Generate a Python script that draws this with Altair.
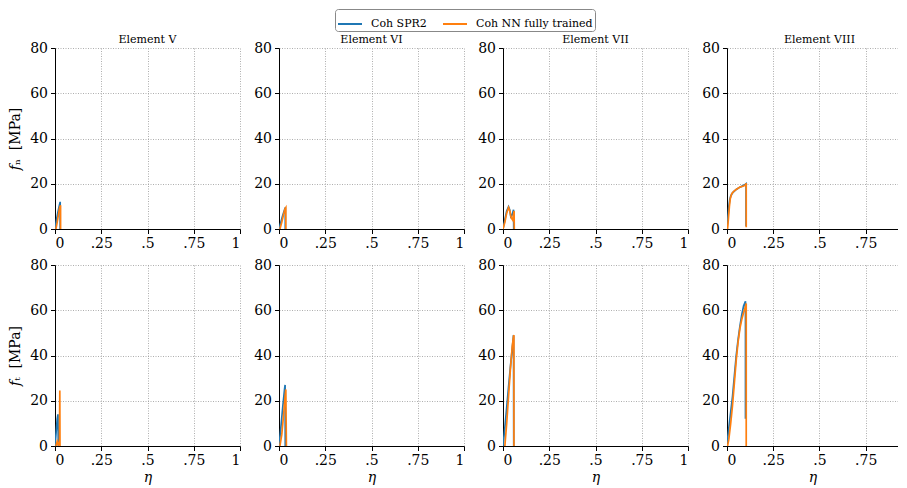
import altair as alt
import pandas as pd

SERIES = ["Coh SPR2", "Coh NN fully trained"]
COLORS = ["#1f77b4", "#ff7f0e"]
ELEMENTS = ["V", "VI", "VII", "VIII"]
X_TICKS = [0, 0.25, 0.5, 0.75, 1]
Y_TICKS = [0, 20, 40, 60, 80]

# ---- Element V ----
v_n_spr_eta = [0, 0.008, 0.016, 0.024, 0.028, 0.028]
v_n_spr_f = [0, 4, 7.5, 10.5, 12, 0]
v_n_nn_eta = [0.005, 0.012, 0.018, 0.025, 0.03, 0.03]
v_n_nn_f = [0, 3, 6, 9.5, 10.5, 0]
v_t_spr_eta = [0, 0.006, 0.012, 0.016, 0.018]
v_t_spr_f = [0, 6, 12, 14, 0]
v_t_nn_eta = [0.005, 0.012, 0.018, 0.024, 0.026, 0.027]
v_t_nn_f = [0, 2, 0.5, 2, 24.5, 0]

# ---- Element VI ----
vi_n_spr_eta = [0, 0.01, 0.02, 0.03, 0.034, 0.034]
vi_n_spr_f = [0, 3, 6, 8.5, 9.5, 0]
vi_n_nn_eta = [0.005, 0.015, 0.025, 0.033, 0.037, 0.037]
vi_n_nn_f = [0, 3, 6.5, 9, 9.5, 0]
vi_t_spr_eta = [0, 0.01, 0.02, 0.03, 0.033, 0.034]
vi_t_spr_f = [0, 8, 17, 25, 27, 0]
vi_t_nn_eta = [0.005, 0.015, 0.025, 0.033, 0.037, 0.04]
vi_t_nn_f = [0, 5, 14, 22, 25, 0]

# ---- Element VII ----
vii_n_spr_eta = [0, 0.01, 0.02, 0.03, 0.036, 0.042, 0.05, 0.057, 0.058]
vii_n_spr_f = [0, 4, 8, 9.8, 8.5, 5.5, 6.5, 8.5, 0]
vii_n_nn_eta = [0, 0.01, 0.02, 0.03, 0.037, 0.044, 0.052, 0.06, 0.061]
vii_n_nn_f = [0, 3, 7, 9.5, 8, 5, 4, 8, 0]
vii_t_spr_eta = [0, 0.01, 0.02, 0.03, 0.04, 0.05, 0.057, 0.058]
vii_t_spr_f = [0, 8, 17, 26, 35, 43, 49, 0]
vii_t_nn_eta = [0.01, 0.02, 0.03, 0.04, 0.05, 0.057, 0.059, 0.059]
vii_t_nn_f = [0, 10, 22, 34, 44, 48.5, 49, 0]

# ---- Element VIII ----
viii_n_spr_eta = [0, 0.005, 0.01, 0.015, 0.02, 0.03, 0.05, 0.07, 0.09, 0.1, 0.103, 0.103]
viii_n_spr_f = [0, 5, 10, 13, 14.5, 16, 17.5, 18.5, 19.3, 19.8, 20, 1.2]
viii_n_nn_eta = [0.003, 0.008, 0.013, 0.018, 0.025, 0.035, 0.05, 0.07, 0.09, 0.1, 0.104, 0.104]
viii_n_nn_f = [0, 5, 10, 13.5, 15.5, 16.5, 17.5, 18.5, 19, 19.5, 20.2, 0.8]
viii_t_spr_eta = [0, 0.01, 0.02, 0.03, 0.04, 0.05, 0.06, 0.07, 0.08, 0.09, 0.1, 0.1]
viii_t_spr_f = [1, 8, 15, 22, 31, 40, 47, 53, 58, 62, 64, 12]
viii_t_nn_eta = [0.003, 0.01, 0.02, 0.03, 0.04, 0.05, 0.06, 0.07, 0.08, 0.09, 0.1, 0.104, 0.104]
viii_t_nn_f = [0, 3, 10, 18, 28, 38, 46, 52, 56, 59, 61.5, 63, 0]

CURVES = {
    ("V", "n"): [(v_n_spr_eta, v_n_spr_f), (v_n_nn_eta, v_n_nn_f)],
    ("V", "t"): [(v_t_spr_eta, v_t_spr_f), (v_t_nn_eta, v_t_nn_f)],
    ("VI", "n"): [(vi_n_spr_eta, vi_n_spr_f), (vi_n_nn_eta, vi_n_nn_f)],
    ("VI", "t"): [(vi_t_spr_eta, vi_t_spr_f), (vi_t_nn_eta, vi_t_nn_f)],
    ("VII", "n"): [(vii_n_spr_eta, vii_n_spr_f), (vii_n_nn_eta, vii_n_nn_f)],
    ("VII", "t"): [(vii_t_spr_eta, vii_t_spr_f), (vii_t_nn_eta, vii_t_nn_f)],
    ("VIII", "n"): [(viii_n_spr_eta, viii_n_spr_f), (viii_n_nn_eta, viii_n_nn_f)],
    ("VIII", "t"): [(viii_t_spr_eta, viii_t_spr_f), (viii_t_nn_eta, viii_t_nn_f)],
}

rows = []
for (el, comp), pairs in CURVES.items():
    for s, (etas, fs) in zip(SERIES, pairs):
        for i, (e, f) in enumerate(zip(etas, fs)):
            rows.append({"el": el, "comp": comp, "series": s, "i": i, "eta": e, "f": f})
df = pd.DataFrame(rows)

FONT = "DejaVu Serif"
color = alt.Color("series:N", scale=alt.Scale(domain=SERIES, range=COLORS),
                  legend=alt.Legend(title=None))

LABEL_EXPR = ("datum.value == 0 ? '0' : datum.value == 1 ? '1' : "
              "datum.value == 0.25 ? '.25' : datum.value == 0.5 ? '.5' : '.75'")
NB = "\u00a0\u00a0"
PANEL_W = 185


def panel(el, comp, r, c):
    last = c == 3
    xmax = 0.925 if last else 1.0
    w = 171 if last else PANEL_W
    d = df[(df.el == el) & (df.comp == comp)]
    x = alt.X("eta:Q", scale=alt.Scale(domain=[0, xmax], nice=False, zero=False),
              axis=alt.Axis(values=[t for t in X_TICKS if t <= xmax], labelExpr=LABEL_EXPR,
                            title="η" if r == 1 else None, titleFontStyle="italic",
                            titlePadding=3))
    ytitle = None
    if c == 0:
        ytitle = ("𝑓ₙ" if comp == "n" else "𝑓ₜ") + NB + "[MPa]"
    y = alt.Y("f:Q", scale=alt.Scale(domain=[0, 80], nice=False),
              axis=alt.Axis(values=Y_TICKS, title=ytitle, titlePadding=7))
    layers = []
    for s in SERIES:
        layers.append(
            alt.Chart(d[d.series == s]).mark_line(strokeWidth=1.7, clip=True).encode(
                x=x, y=y, color=color, order=alt.Order("i:Q"))
        )
    if r == 0:
        # panel heading, centred on the (full-width) panel just above its top edge
        layers.append(
            alt.Chart(d.head(1)).mark_text(font=FONT, fontSize=11, color="black",
                                          baseline="bottom", align="center").encode(
                x=alt.value(PANEL_W / 2), y=alt.value(-3),
                text=alt.value("Element " + el))
        )
    return alt.layer(*layers).properties(width=w, height=181)


panels = []
for r, comp in enumerate(["n", "t"]):
    for c, el in enumerate(ELEMENTS):
        panels.append(panel(el, comp, r, c))

chart = alt.concat(*panels, columns=4, spacing={"row": 36, "column": 39}, bounds="flush").properties(
    padding={"left": 0, "top": 0, "right": 0, "bottom": 0}
).configure_view(stroke=None).configure_axis(
    domainColor="black", domainWidth=1, tickColor="black", tickSize=4.5, tickWidth=1,
    labelFont=FONT, labelFontSize=14, labelColor="black", labelPadding=3,
    titleFont=FONT, titleFontSize=14, titleColor="black", titleFontWeight="normal",
    gridColor="#999999", gridDash=[1, 1.5], gridWidth=0.8,
).configure_legend(
    orient="none", legendX=280, legendY=-39, direction="horizontal",
    labelFont=FONT, labelFontSize=11, labelColor="black",
    symbolType="stroke", symbolSize=576, symbolStrokeWidth=2,
    strokeColor="#888888", cornerRadius=3, padding=2, fillColor="white",
    columnPadding=12, labelOffset=8,
)

chart.save("out.html", embed_options={"renderer": "svg", "actions": False})
